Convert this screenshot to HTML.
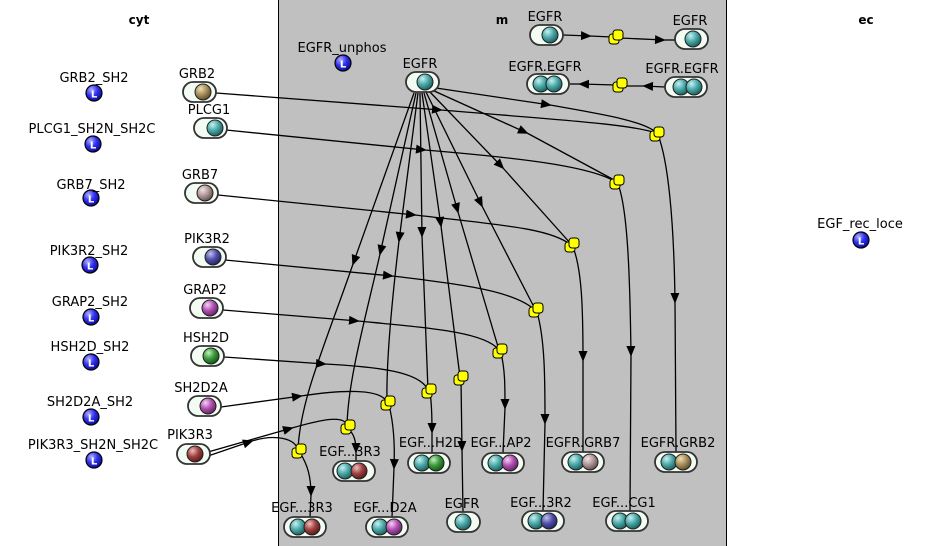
<!DOCTYPE html>
<html><head><meta charset="utf-8"><style>
html,body{margin:0;padding:0;background:#fff}
svg{display:block}
text{font-family:"DejaVu Sans","Liberation Sans",sans-serif;font-size:13px;fill:#000;text-anchor:middle}
.t{font-weight:bold;font-size:12px}
.p{fill:#f2fcf2;stroke:#333;stroke-width:1.8}
.e{fill:none;stroke:#000;stroke-width:1.3}
.y{fill:#ffff00;stroke:#000;stroke-width:1}
</style></head><body>
<svg width="929" height="546" viewBox="0 0 929 546" xmlns="http://www.w3.org/2000/svg">
<defs>
<marker id="a" viewBox="0 0 12 10" refX="10" refY="5" markerWidth="11" markerHeight="9" markerUnits="userSpaceOnUse" orient="auto"><path d="M0,0 L12,5 L0,10 z" fill="#000"/></marker>
<radialGradient id="gT" cx="0.35" cy="0.3" r="0.75"><stop offset="0" stop-color="#c8f0f0"/><stop offset="0.5" stop-color="#4aa8a8"/><stop offset="1" stop-color="#1a5858"/></radialGradient>
<radialGradient id="gN" cx="0.35" cy="0.3" r="0.75"><stop offset="0" stop-color="#f0e0b0"/><stop offset="0.5" stop-color="#a89060"/><stop offset="1" stop-color="#5a4820"/></radialGradient>
<radialGradient id="gK" cx="0.35" cy="0.3" r="0.75"><stop offset="0" stop-color="#f4e4e4"/><stop offset="0.5" stop-color="#b09898"/><stop offset="1" stop-color="#604848"/></radialGradient>
<radialGradient id="gB" cx="0.35" cy="0.3" r="0.75"><stop offset="0" stop-color="#c0c0f0"/><stop offset="0.5" stop-color="#5050a8"/><stop offset="1" stop-color="#202060"/></radialGradient>
<radialGradient id="gP" cx="0.35" cy="0.3" r="0.75"><stop offset="0" stop-color="#f8d0f8"/><stop offset="0.5" stop-color="#b050b0"/><stop offset="1" stop-color="#602060"/></radialGradient>
<radialGradient id="gG" cx="0.35" cy="0.3" r="0.75"><stop offset="0" stop-color="#c0f0c0"/><stop offset="0.5" stop-color="#3a9a3a"/><stop offset="1" stop-color="#145014"/></radialGradient>
<radialGradient id="gR" cx="0.35" cy="0.3" r="0.75"><stop offset="0" stop-color="#f0c0c0"/><stop offset="0.5" stop-color="#a04040"/><stop offset="1" stop-color="#501818"/></radialGradient>
<radialGradient id="gL" cx="0.35" cy="0.3" r="0.75"><stop offset="0" stop-color="#b0b0ff"/><stop offset="0.5" stop-color="#3030f0"/><stop offset="1" stop-color="#0a0a90"/></radialGradient>
<g id="L"><circle r="8" fill="url(#gL)" stroke="#000" stroke-width="1.2"/><text x="0" y="4.5" style="font-size:10px;font-weight:bold;fill:#fff">L</text></g>
<g id="Y"><rect x="-7" y="-3" width="10" height="10" rx="3" class="y"/><rect x="-3" y="-7" width="10" height="10" rx="3" class="y"/></g>
</defs>
<rect x="278" y="0" width="448" height="546" fill="#c0c0c0"/>
<line x1="278.5" y1="0" x2="278.5" y2="546" stroke="#000"/>
<line x1="726.5" y1="0" x2="726.5" y2="546" stroke="#000"/>
<text class="t" x="139" y="24">cyt</text>
<text class="t" x="502" y="24">m</text>
<text class="t" x="866" y="24">ec</text>

<g class="e">
<path d="M563,35 L590,36" marker-end="url(#a)"/><path d="M590,36 L612,37"/>
<path d="M620,38 L664,40" marker-end="url(#a)"/><path d="M664,40 L676,40"/>
<path d="M665,87 L644,86" marker-end="url(#a)"/><path d="M644,86 L622,86"/>
<path d="M616,85 L580,84" marker-end="url(#a)"/><path d="M580,84 L570,84"/>
<path d="M216,93 L441,110" marker-end="url(#a)"/><path d="M441,110 C560,120 630,124 656,133"/>
<path d="M226,130 L425,150" marker-end="url(#a)"/><path d="M425,150 C520,158 590,166 616,182"/>
<path d="M218,195 L415,215" marker-end="url(#a)"/><path d="M415,215 C500,225 550,228 571,245"/>
<path d="M225,260 L392,276" marker-end="url(#a)"/><path d="M392,276 C470,285 515,292 535,310"/>
<path d="M223,310 L358,321" marker-end="url(#a)"/><path d="M358,321 C430,328 485,332 499,350"/>
<path d="M224,357 L325,364" marker-end="url(#a)"/><path d="M325,364 C380,367 420,372 428,390"/>
<path d="M221,407 L301,396" marker-end="url(#a)"/><path d="M301,396 C340,390 380,388 387,402"/>
<path d="M208,452 L292,428" marker-end="url(#a)"/><path d="M292,428 C320,420 345,414 347,426"/>
<path d="M208,456 L252,441" marker-end="url(#a)"/><path d="M252,441 C275,434 295,438 298,450"/>
<path d="M436,88 L550,105" marker-end="url(#a)"/><path d="M550,105 C600,114 640,120 656,132"/>
<path d="M432,90 L527,133" marker-end="url(#a)"/><path d="M527,133 L616,181"/>
<path d="M429,91 L503,168" marker-end="url(#a)"/><path d="M503,168 L571,244"/>
<path d="M426,92 L482,206" marker-end="url(#a)"/><path d="M482,206 L535,309"/>
<path d="M424,93 L458,212" marker-end="url(#a)"/><path d="M458,212 L499,350"/>
<path d="M422,93 L441,226" marker-end="url(#a)"/><path d="M441,226 L460,377"/>
<path d="M420,93 L422,236" marker-end="url(#a)"/><path d="M422,236 L428,390"/>
<path d="M418,93 L399,241" marker-end="url(#a)"/><path d="M399,241 C392,300 386,360 387,402"/>
<path d="M416,93 L380,254" marker-end="url(#a)"/><path d="M380,254 C365,320 348,380 347,426"/>
<path d="M414,93 L353,264" marker-end="url(#a)"/><path d="M353,264 C325,345 300,400 298,450"/>
<path d="M658,135 C668,160 674,220 675,302" marker-end="url(#a)"/><path d="M675,302 L676,452"/>
<path d="M618,184 C628,210 630,280 631,355" marker-end="url(#a)"/><path d="M631,355 L630,511"/>
<path d="M573,247 C582,270 583,310 583,360" marker-end="url(#a)"/><path d="M583,360 L583,452"/>
<path d="M537,312 C545,340 545,380 545,423" marker-end="url(#a)"/><path d="M545,423 L543,511"/>
<path d="M501,353 C505,370 505,385 505,408" marker-end="url(#a)"/><path d="M505,408 L503,453"/>
<path d="M461,380 L462,450" marker-end="url(#a)"/><path d="M462,450 L463,512"/>
<path d="M430,393 C432,405 432,420 432,432" marker-end="url(#a)"/><path d="M432,432 L432,453"/>
<path d="M389,405 C394,425 395,445 394,468" marker-end="url(#a)"/><path d="M394,468 L392,517"/>
<path d="M349,429 C354,435 356,440 356,452" marker-end="url(#a)"/><path d="M356,452 L356,461"/>
<path d="M300,453 C308,465 311,478 311,495" marker-end="url(#a)"/><path d="M311,495 L310,517"/>
</g>

<use href="#Y" x="657" y="134"/><use href="#Y" x="617" y="182"/><use href="#Y" x="572" y="245"/>
<use href="#Y" x="536" y="310"/><use href="#Y" x="500" y="351"/><use href="#Y" x="461" y="378"/>
<use href="#Y" x="429" y="391"/><use href="#Y" x="388" y="403"/><use href="#Y" x="348" y="427"/>
<use href="#Y" x="299" y="451"/><use href="#Y" x="616" y="37"/><use href="#Y" x="620" y="85"/>

<use href="#L" x="94" y="93"/><use href="#L" x="93" y="144"/><use href="#L" x="91" y="198"/>
<use href="#L" x="90" y="265"/><use href="#L" x="91" y="317"/><use href="#L" x="91" y="362"/>
<use href="#L" x="91" y="417"/><use href="#L" x="94" y="460"/><use href="#L" x="343" y="63"/>
<use href="#L" x="861" y="240"/>
<text x="94" y="82">GRB2_SH2</text>
<text x="92" y="133">PLCG1_SH2N_SH2C</text>
<text x="91" y="189">GRB7_SH2</text>
<text x="89" y="255">PIK3R2_SH2</text>
<text x="90" y="306">GRAP2_SH2</text>
<text x="90" y="351">HSH2D_SH2</text>
<text x="90" y="406">SH2D2A_SH2</text>
<text x="93" y="449">PIK3R3_SH2N_SH2C</text>
<text x="342" y="52">EGFR_unphos</text>
<text x="860" y="228">EGF_rec_loce</text>

<g>
<rect class="p" x="183" y="82" width="33" height="20" rx="10"/><circle cx="203" cy="92" r="8" fill="url(#gN)" stroke="#222"/>
<rect class="p" x="194" y="118" width="33" height="20" rx="10"/><circle cx="215" cy="128" r="8" fill="url(#gT)" stroke="#222"/>
<rect class="p" x="185" y="183" width="33" height="20" rx="10"/><circle cx="205" cy="193" r="8" fill="url(#gK)" stroke="#222"/>
<rect class="p" x="193" y="247" width="33" height="20" rx="10"/><circle cx="213" cy="257" r="8" fill="url(#gB)" stroke="#222"/>
<rect class="p" x="190" y="298" width="33" height="20" rx="10"/><circle cx="210" cy="308" r="8" fill="url(#gP)" stroke="#222"/>
<rect class="p" x="191" y="346" width="33" height="20" rx="10"/><circle cx="211" cy="356" r="8" fill="url(#gG)" stroke="#222"/>
<rect class="p" x="188" y="396" width="33" height="20" rx="10"/><circle cx="208" cy="406" r="8" fill="url(#gP)" stroke="#222"/>
<rect class="p" x="177" y="444" width="33" height="20" rx="10"/><circle cx="195" cy="454" r="8" fill="url(#gR)" stroke="#222"/>
<rect class="p" x="530" y="25" width="33" height="20" rx="10"/><circle cx="550" cy="35" r="8" fill="url(#gT)" stroke="#222"/>
<rect class="p" x="675" y="29" width="33" height="20" rx="10"/><circle cx="693" cy="39" r="8" fill="url(#gT)" stroke="#222"/>
<rect class="p" x="406" y="72" width="33" height="20" rx="10"/><circle cx="425" cy="82" r="8" fill="url(#gT)" stroke="#222"/>
<rect class="p" x="447" y="512" width="33" height="20" rx="10"/><circle cx="463" cy="522" r="8" fill="url(#gT)" stroke="#222"/>
</g>
<text x="197" y="78">GRB2</text><text x="209" y="114">PLCG1</text><text x="200" y="179">GRB7</text>
<text x="207" y="243">PIK3R2</text><text x="205" y="294">GRAP2</text><text x="206" y="342">HSH2D</text>
<text x="201" y="392">SH2D2A</text><text x="190" y="439">PIK3R3</text>
<text x="545" y="21">EGFR</text><text x="690" y="25">EGFR</text><text x="420" y="68">EGFR</text>
<text x="462" y="508">EGFR</text>

<g>
<rect class="p" x="527" y="74" width="42" height="20" rx="10"/><circle cx="541" cy="84" r="8" fill="url(#gT)" stroke="#222"/><circle cx="554" cy="84" r="8" fill="url(#gT)" stroke="#222"/>
<rect class="p" x="665" y="77" width="42" height="20" rx="10"/><circle cx="681" cy="87" r="8" fill="url(#gT)" stroke="#222"/><circle cx="694" cy="87" r="8" fill="url(#gT)" stroke="#222"/>
<rect class="p" x="333" y="461" width="42" height="20" rx="10"/><circle cx="345" cy="471" r="8" fill="url(#gT)" stroke="#222"/><circle cx="359" cy="471" r="8" fill="url(#gR)" stroke="#222"/>
<rect class="p" x="408" y="453" width="42" height="20" rx="10"/><circle cx="422" cy="463" r="8" fill="url(#gT)" stroke="#222"/><circle cx="436" cy="463" r="8" fill="url(#gG)" stroke="#222"/>
<rect class="p" x="482" y="453" width="42" height="20" rx="10"/><circle cx="496" cy="463" r="8" fill="url(#gT)" stroke="#222"/><circle cx="510" cy="463" r="8" fill="url(#gP)" stroke="#222"/>
<rect class="p" x="562" y="452" width="42" height="20" rx="10"/><circle cx="576" cy="462" r="8" fill="url(#gT)" stroke="#222"/><circle cx="590" cy="462" r="8" fill="url(#gK)" stroke="#222"/>
<rect class="p" x="655" y="452" width="42" height="20" rx="10"/><circle cx="669" cy="462" r="8" fill="url(#gT)" stroke="#222"/><circle cx="683" cy="462" r="8" fill="url(#gN)" stroke="#222"/>
<rect class="p" x="284" y="517" width="42" height="20" rx="10"/><circle cx="298" cy="527" r="8" fill="url(#gT)" stroke="#222"/><circle cx="312" cy="527" r="8" fill="url(#gR)" stroke="#222"/>
<rect class="p" x="366" y="517" width="42" height="20" rx="10"/><circle cx="380" cy="527" r="8" fill="url(#gT)" stroke="#222"/><circle cx="394" cy="527" r="8" fill="url(#gP)" stroke="#222"/>
<rect class="p" x="522" y="511" width="42" height="20" rx="10"/><circle cx="536" cy="521" r="8" fill="url(#gT)" stroke="#222"/><circle cx="549" cy="521" r="8" fill="url(#gB)" stroke="#222"/>
<rect class="p" x="606" y="511" width="42" height="20" rx="10"/><circle cx="620" cy="521" r="8" fill="url(#gT)" stroke="#222"/><circle cx="633" cy="521" r="8" fill="url(#gT)" stroke="#222"/>
</g>
<text x="545" y="71">EGFR.EGFR</text><text x="682" y="73">EGFR.EGFR</text>
<text x="350" y="456">EGF...3R3</text><text x="431" y="447">EGF...H2D</text><text x="501" y="447">EGF...AP2</text>
<text x="583" y="447">EGFR.GRB7</text><text x="678" y="447">EGFR.GRB2</text>
<text x="302" y="512">EGF...3R3</text><text x="385" y="512">EGF...D2A</text>
<text x="541" y="507">EGF...3R2</text><text x="624" y="507">EGF...CG1</text>
</svg>
</body></html>
